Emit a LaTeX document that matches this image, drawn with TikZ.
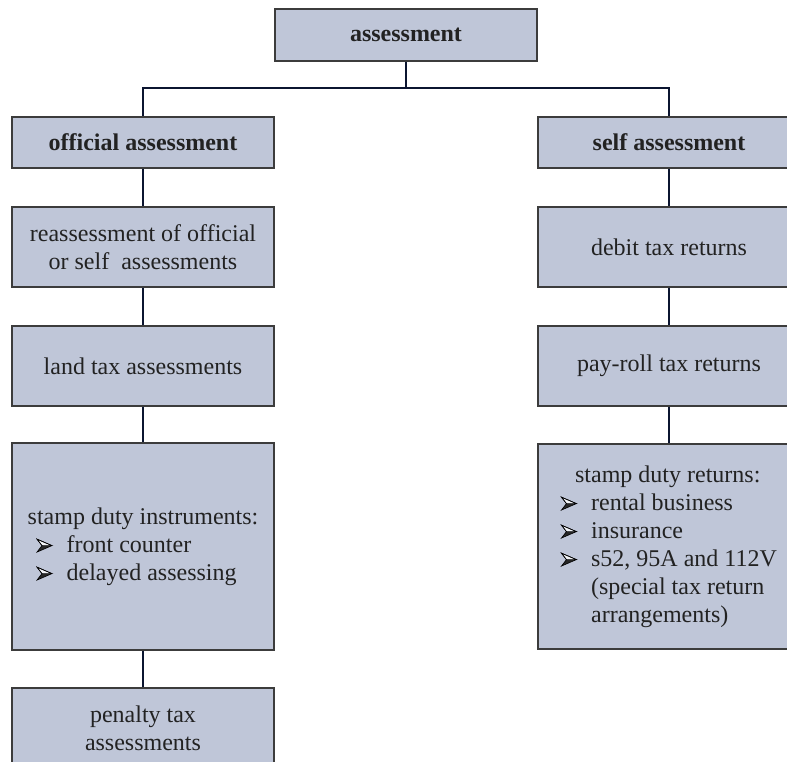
\documentclass[tikz,border=0pt]{standalone}
\usepackage{fontspec}
\setmainfont{Liberation Serif}
\definecolor{boxfill}{HTML}{BFC6D8}
\definecolor{boxline}{HTML}{3C3C3C}
\definecolor{connline}{HTML}{0B1530}
\definecolor{txt}{HTML}{222222}
\newcommand{\bul}{\tikz[x=1pt,y=1pt,baseline=0pt]{%
  \fill[black!85] (0,0) -- (15,6.5) -- (5,6.5) -- cycle;
  \filldraw[draw=black, fill=white!80!boxfill, line width=0.6pt, line join=miter] (0,13) -- (15,6.5) -- (5,6.5) -- cycle;
  \draw[black, line width=0.6pt, line join=miter] (0,13) -- (15,6.5) -- (0,0) -- (5,6.5) -- cycle;}}
\newcommand{\bitem}[1]{\makebox[30pt][l]{\bul}#1}
\tikzset{
  box/.style={draw=boxline, line width=1.1pt, fill=boxfill, minimum width=262pt,
    inner sep=0pt, anchor=center, text=txt, align=center,
    font=\fontsize{24}{28}\selectfont},
  conn/.style={draw=connline, line width=2pt}
}
\begin{document}
\begin{tikzpicture}[x=1pt,y=-1pt]
\useasboundingbox (0,0) rectangle (787,762);
\clip (0,0) rectangle (787,762);
% boxes
\node[box, minimum height=52pt, font=\fontsize{24}{28}\selectfont\bfseries] (top) at (406,35) {assessment};
\node[box, minimum height=51pt, font=\fontsize{24}{28}\selectfont\bfseries] (off) at (143,142.5) {official assessment};
\node[box, minimum height=51pt, font=\fontsize{24}{28}\selectfont\bfseries] (self) at (669,142.5) {self assessment};
\node[box, minimum height=80pt] (re) at (143,247) {reassessment of official\\or self\ \ assessments};
\node[box, minimum height=80pt] (land) at (143,366) {land tax assessments};
\node[box, minimum height=207pt] (sdi) at (143,546.5) {%
  \begin{tabular}{@{}l@{}}
  stamp duty instruments:\\
  \hspace{9pt}\bitem{front counter}\\
  \hspace{9pt}\bitem{delayed assessing}
  \end{tabular}};
\node[box, minimum height=80pt] (pen) at (143,728) {penalty tax\\assessments};
\node[box, minimum height=80pt] (debit) at (669,247) {debit tax returns};
\node[box, minimum height=80pt] (pay) at (669,366) {pay-roll tax returns};
\node[box, minimum height=205pt] (sdr) at (669,546.5) {%
  \begin{tabular}{@{}l@{}}
  \hspace{14pt}stamp duty returns:\\
  \bitem{rental business}\\
  \bitem{insurance}\\
  \bitem{s52, 95A and 112V}\\
  \hspace{30pt}(special tax return\\
  \hspace{30pt}arrangements)
  \end{tabular}};
% connectors
\draw[conn] (top.south) -- ++(0,26) coordinate (j) -| (off.north);
\draw[conn] (j) -| (self.north);
\draw[conn] (off) -- (re);
\draw[conn] (re) -- (land);
\draw[conn] (land) -- (sdi);
\draw[conn] (sdi) -- (pen);
\draw[conn] (self) -- (debit);
\draw[conn] (debit) -- (pay);
\draw[conn] (pay) -- (sdr);
\end{tikzpicture}
\end{document}
